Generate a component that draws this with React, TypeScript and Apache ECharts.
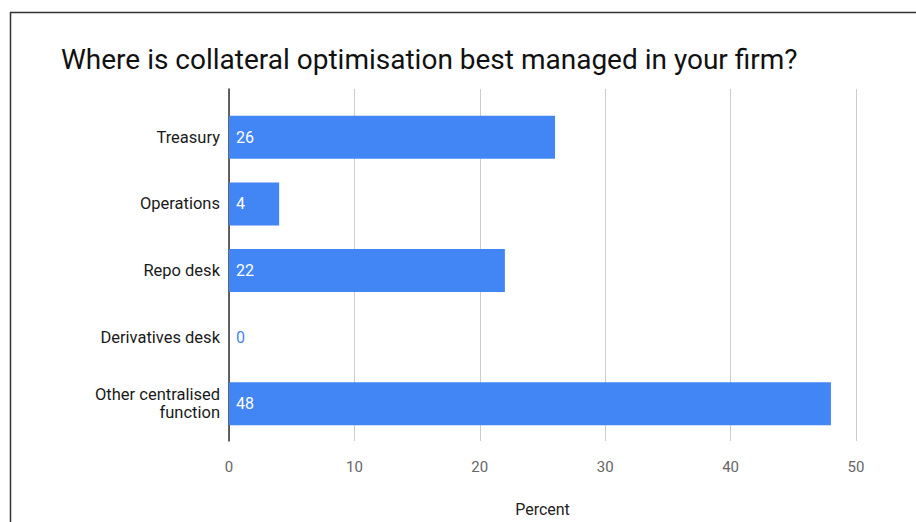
import React, { useEffect, useRef } from "react";
import * as echarts from "echarts";

const categories = ["Treasury", "Operations", "Repo desk", "Derivatives desk", "Other centralised\nfunction"];
const values = [26, 4, 22, 0, 48];
const titleText = "Where is collateral optimisation best managed in your firm?";
const axisName = "Percent";

export default function App() {
  const ref = useRef<HTMLDivElement>(null);
  useEffect(() => {
    const chart = echarts.init(ref.current!, null, { renderer: "svg" });
    const font = "Roboto";
    chart.setOption({
      animation: false,
      textStyle: { fontFamily: font },
      title: {
        text: titleText,
        left: 56,
        top: 40,
        textStyle: { fontFamily: font, fontSize: 28, fontWeight: "normal", color: "#111" },
      },
      graphic: [
        { type: "line", shape: { x1: 10, y1: 12.5, x2: 916, y2: 12.5 }, style: { stroke: "#333", lineWidth: 1.5 } },
        { type: "line", shape: { x1: 10.5, y1: 12, x2: 10.5, y2: 522 }, style: { stroke: "#333", lineWidth: 1.5 } },
      ],
      grid: [
        { left: 229, right: 60, top: 89, bottom: 74 },
        { left: 229, right: 60, top: 104, bottom: 85 },
      ],
      xAxis: [
        {
          gridIndex: 0,
          type: "value",
          min: 0,
          max: 50,
          interval: 10,
          axisLine: { show: false },
          axisTick: { show: false },
          splitLine: { show: true, lineStyle: { color: "#ccc", width: 1 } },
          axisLabel: { color: "#666", fontSize: 15, margin: 18, fontFamily: font },
          name: axisName,
          nameLocation: "middle",
          nameGap: 60,
          nameTextStyle: { color: "#222", fontSize: 16, fontFamily: font },
        },
        {
          gridIndex: 1,
          type: "value",
          min: 0,
          max: 50,
          interval: 10,
          show: false,
        },
      ],
      yAxis: [
        {
          gridIndex: 0,
          type: "category",
          data: [],
          axisLine: { show: true, lineStyle: { color: "#333", width: 1.5 } },
          axisTick: { show: false },
          axisLabel: { show: false },
        },
        {
          gridIndex: 1,
          type: "category",
          data: categories,
          inverse: true,
          axisLine: { show: false },
          axisTick: { show: false },
          axisLabel: { color: "#1a1a1a", fontSize: 16.5, margin: 9, fontFamily: font, lineHeight: 18, align: "right" },
        },
      ],
      series: [
        {
          type: "bar",
          xAxisIndex: 1,
          yAxisIndex: 1,
          barWidth: 43,
          data: values.map((v) => ({
            value: v,
            label: v === 0 ? { color: "#4285f4" } : undefined,
          })),
          itemStyle: { color: "#4285f4" },
          label: {
            show: true,
            position: "insideLeft",
            distance: 7,
            color: "#fff",
            fontSize: 16,
            fontFamily: font,
          },
        },
      ],
    });
    return () => chart.dispose();
  }, []);
  return <div ref={ref} style={{ width: 916, height: 522, position: "absolute", left: 0, top: 0, background: "#fff" }} />;
}
